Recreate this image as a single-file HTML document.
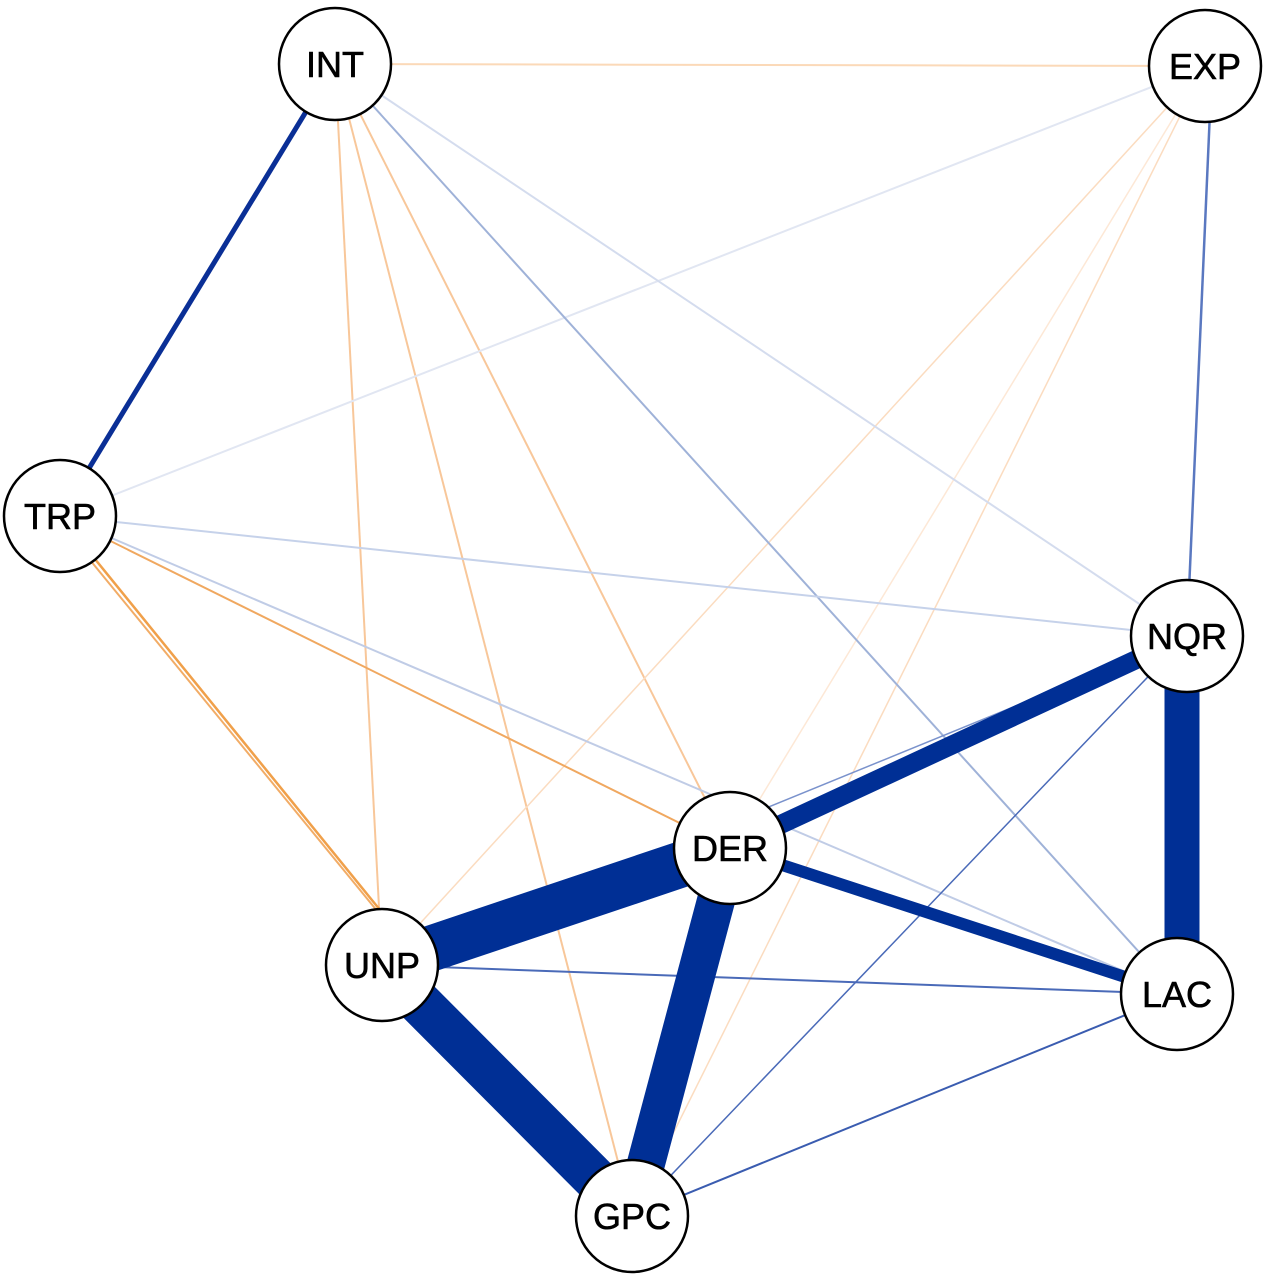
<!DOCTYPE html>
<html><head><meta charset="utf-8"><style>html,body{margin:0;padding:0;background:#fff}</style></head>
<body>
<svg width="1279" height="1280" viewBox="0 0 1279 1280" xmlns="http://www.w3.org/2000/svg">
<g stroke-linecap="butt">
<line x1="335" y1="64" x2="1205" y2="66" stroke="#fbd9b8" stroke-width="2"/>
<line x1="335" y1="64" x2="382" y2="965" stroke="#f8c79a" stroke-width="2"/>
<line x1="335" y1="64" x2="632" y2="1216" stroke="#f8c79a" stroke-width="2"/>
<line x1="335" y1="64" x2="730" y2="848" stroke="#f8c79a" stroke-width="2"/>
<line x1="1205" y1="66" x2="382" y2="965" stroke="#fbdcc0" stroke-width="1.5"/>
<line x1="1205" y1="66" x2="632" y2="1216" stroke="#fbdcc0" stroke-width="1.5"/>
<line x1="1205" y1="66" x2="730" y2="848" stroke="#fde8d6" stroke-width="1.5"/>
<line x1="60" y1="516" x2="380" y2="910" stroke="#f0a04a" stroke-width="2.5"/>
<line x1="90" y1="560" x2="378" y2="912" stroke="#f2ac66" stroke-width="2"/>
<line x1="60" y1="516" x2="730" y2="848" stroke="#f0a860" stroke-width="2"/>
<line x1="60" y1="516" x2="1205" y2="66" stroke="#e1e6f2" stroke-width="2"/>
<line x1="335" y1="64" x2="1187" y2="636" stroke="#d4dcee" stroke-width="2"/>
<line x1="335" y1="64" x2="1177" y2="994" stroke="#9fb2d8" stroke-width="2"/>
<line x1="60" y1="516" x2="1187" y2="636" stroke="#c6d2ea" stroke-width="2"/>
<line x1="60" y1="516" x2="1177" y2="994" stroke="#c0cce6" stroke-width="2"/>
<line x1="1212" y1="66" x2="1187" y2="636" stroke="#5a78c0" stroke-width="2.5"/>
<line x1="382" y1="965" x2="1187" y2="636" stroke="#7a92cc" stroke-width="1.5"/>
<line x1="632" y1="1216" x2="1187" y2="636" stroke="#4a6ab8" stroke-width="1.5"/>
<line x1="382" y1="965" x2="1177" y2="994" stroke="#4a6ab8" stroke-width="2"/>
<line x1="632" y1="1216" x2="1177" y2="994" stroke="#3a5cb0" stroke-width="2"/>
<line x1="335" y1="64" x2="60" y2="516" stroke="#0a2f96" stroke-width="5"/>
<line x1="730" y1="848" x2="1177" y2="994" stroke="#002f95" stroke-width="12"/>
<line x1="730" y1="848" x2="1187" y2="636" stroke="#002f95" stroke-width="19"/>
<line x1="1182" y1="636" x2="1182" y2="994" stroke="#002f95" stroke-width="35"/>
<line x1="730" y1="848" x2="382" y2="965" stroke="#002f95" stroke-width="46"/>
<line x1="730" y1="848" x2="632" y2="1216" stroke="#002f95" stroke-width="38"/>
<line x1="382" y1="965" x2="632" y2="1216" stroke="#002f95" stroke-width="44"/>
</g>
<g fill="#fff" stroke="#000" stroke-width="2.5">
<circle cx="335" cy="64" r="56"/>
<circle cx="1205" cy="66" r="56"/>
<circle cx="60" cy="516" r="56"/>
<circle cx="1187" cy="636" r="56"/>
<circle cx="730" cy="848" r="56"/>
<circle cx="382" cy="965" r="56"/>
<circle cx="1177" cy="994" r="56"/>
<circle cx="632" cy="1216" r="56"/>
</g>
<g font-family="Liberation Sans, sans-serif" font-size="36" text-anchor="middle" fill="#000" stroke="#000" stroke-width="0.6">
<text x="335" y="77">INT</text>
<text x="1205" y="79">EXP</text>
<text x="60" y="529">TRP</text>
<text x="1187" y="649">NQR</text>
<text x="730" y="861">DER</text>
<text x="382" y="978">UNP</text>
<text x="1177" y="1007">LAC</text>
<text x="632" y="1229">GPC</text>
</g>
</svg>
</body></html>
